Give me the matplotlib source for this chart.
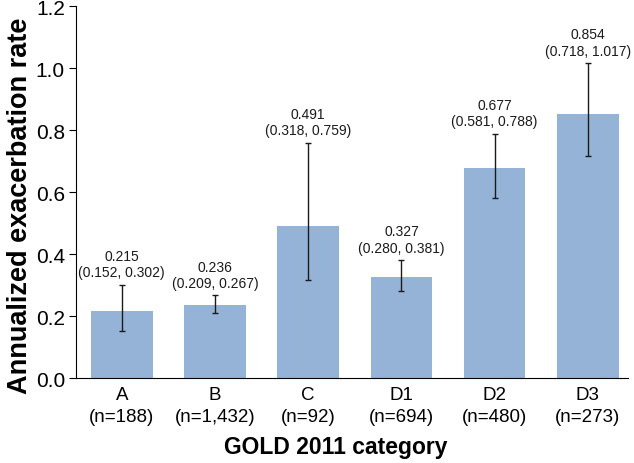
import numpy as np
import matplotlib
matplotlib.use("Agg")
from matplotlib import pyplot as plt

plt.rcParams['font.family'] = ['Liberation Sans', 'DejaVu Sans']

# data
categories = ['A', 'B', 'C', 'D1', 'D2', 'D3']
counts = ['188', '1,432', '92', '694', '480', '273']
rates = [0.215, 0.236, 0.491, 0.327, 0.677, 0.854]
ci_low = [0.152, 0.209, 0.318, 0.280, 0.581, 0.718]
ci_high = [0.302, 0.267, 0.759, 0.381, 0.788, 1.017]

x = np.arange(len(categories))
rates_a = np.array(rates)
yerr = [rates_a - np.array(ci_low), np.array(ci_high) - rates_a]

fig = plt.figure(figsize=(6.34, 4.64), dpi=100)
ax = fig.add_axes([0.12, 0.183, 0.8705, 0.801])

ax.bar(x, rates, width=0.66, color='#95b3d7')
ax.errorbar(x, rates, yerr=yerr, fmt='none', ecolor='#1a1a1a',
            elinewidth=1.0, capsize=2.3, capthick=1.0)

for xi, r, lo, hi in zip(x, rates, ci_low, ci_high):
    ax.annotate('%.3f\n(%.3f, %.3f)' % (r, lo, hi), xy=(xi, hi),
                xytext=(0, 4), textcoords='offset points',
                ha='center', va='bottom', fontsize=10, linespacing=1.2,
                color='#1a1a1a')

ax.set_xlim(-0.49, 5.43)
ax.set_ylim(0, 1.2)
ax.set_yticks(np.arange(0, 1.21, 0.2))
ax.set_yticklabels(['%.1f' % v for v in np.arange(0, 1.21, 0.2)])
ax.set_xticks(x)
ax.set_xticklabels(['%s\n(n=%s)' % (c, n) for c, n in zip(categories, counts)],
                   linespacing=1.35)

ax.spines['top'].set_visible(False)
ax.spines['right'].set_visible(False)
ax.tick_params(axis='x', length=0, labelsize=13.5, pad=6)
ax.tick_params(axis='y', direction='out', length=5, labelsize=15, pad=3)

ax.set_xlabel('GOLD 2011 category', fontsize=16.5, fontweight='bold')
ax.set_ylabel('Annualized exacerbation rate', fontsize=19.5, fontweight='bold')
ax.xaxis.set_label_coords(0.471, -0.152)
ax.yaxis.set_label_coords(-0.078, 0.465)

fig.savefig('out.png', dpi=100)
